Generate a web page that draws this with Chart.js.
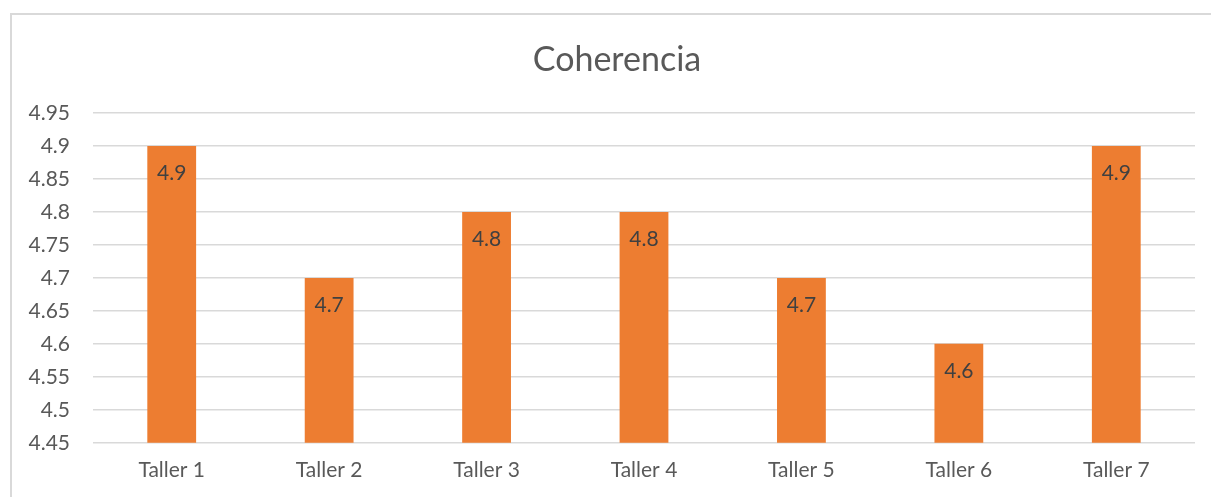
<!DOCTYPE html>
<html>
<head>
<meta charset="utf-8">
<script src="https://cdn.jsdelivr.net/npm/chart.js@4.4.1/dist/chart.umd.min.js"></script>
<style>
  html, body { margin: 0; padding: 0; background: #fff; overflow: hidden; }
  #wrap { position: relative; width: 1211px; height: 497px; }
  #frame { position: absolute; left: 10px; top: 13px; width: 1300px; height: 600px; border: 2px solid #d9d9d9; }
  #chart { position: absolute; left: 0; top: 0; }
</style>
</head>
<body>
<div id="wrap">
  <div id="frame"></div>
  <canvas id="chart" width="1211" height="497"></canvas>
</div>
<script>
const chartTitle = 'Coherencia';
const categories = ['Taller 1', 'Taller 2', 'Taller 3', 'Taller 4', 'Taller 5', 'Taller 6', 'Taller 7'];
const coherencia = [4.9, 4.7, 4.8, 4.8, 4.7, 4.6, 4.9];
const yTicks = [4.45, 4.5, 4.55, 4.6, 4.65, 4.7, 4.75, 4.8, 4.85, 4.9, 4.95];

const FONT = 'Lato, "Open Sans", sans-serif';

// value labels inside the top of each bar + title (centred like the excel one)
const barLabels = {
	id: 'barLabels',
	afterDatasetsDraw(chart) {
		const ctx = chart.ctx;
		const meta = chart.getDatasetMeta(0);
		ctx.save();
		ctx.font = '21px ' + FONT;
		ctx.fillStyle = '#404040';
		ctx.textAlign = 'center';
		ctx.textBaseline = 'middle';
		meta.data.forEach((bar, i) => {
			ctx.fillText(String(coherencia[i]), bar.x, bar.y + 27);
		});
		ctx.font = '34px ' + FONT;
		ctx.fillStyle = '#595959';
		ctx.fillText(chartTitle, 617, 60);
		ctx.restore();
	}
};

const ctx = document.getElementById('chart').getContext('2d');
new Chart(ctx, {
	type: 'bar',
	data: {
		labels: categories,
		datasets: [{
			label: chartTitle,
			data: coherencia,
			backgroundColor: '#ED7D31',
			borderWidth: 0,
			categoryPercentage: 1,
			barPercentage: 0.31
		}]
	},
	options: {
		responsive: false,
		animation: false,
		layout: { padding: { left: 0, right: 16, top: 113, bottom: -1 } },
		plugins: {
			legend: { display: false },
			tooltip: { enabled: false },
			title: { display: false }
		},
		scales: {
			x: {
				grid: { display: false, drawTicks: false },
				border: { display: false },
				ticks: { color: '#595959', font: { family: FONT, size: 21 }, padding: 15 }
			},
			y: {
				min: 4.45,
				max: 4.95,
				afterBuildTicks: scale => { scale.ticks = yTicks.map(v => ({ value: v })); },
				afterFit: scale => { scale.width = 93; },
				grid: { color: '#d9d9d9', lineWidth: 1.5, drawTicks: false },
				border: { display: false },
				ticks: {
					color: '#595959',
					font: { family: FONT, size: 21 },
					padding: 23,
					callback: v => String(+v.toFixed(2))
				}
			}
		}
	},
	plugins: [barLabels]
});
</script>
</body>
</html>
